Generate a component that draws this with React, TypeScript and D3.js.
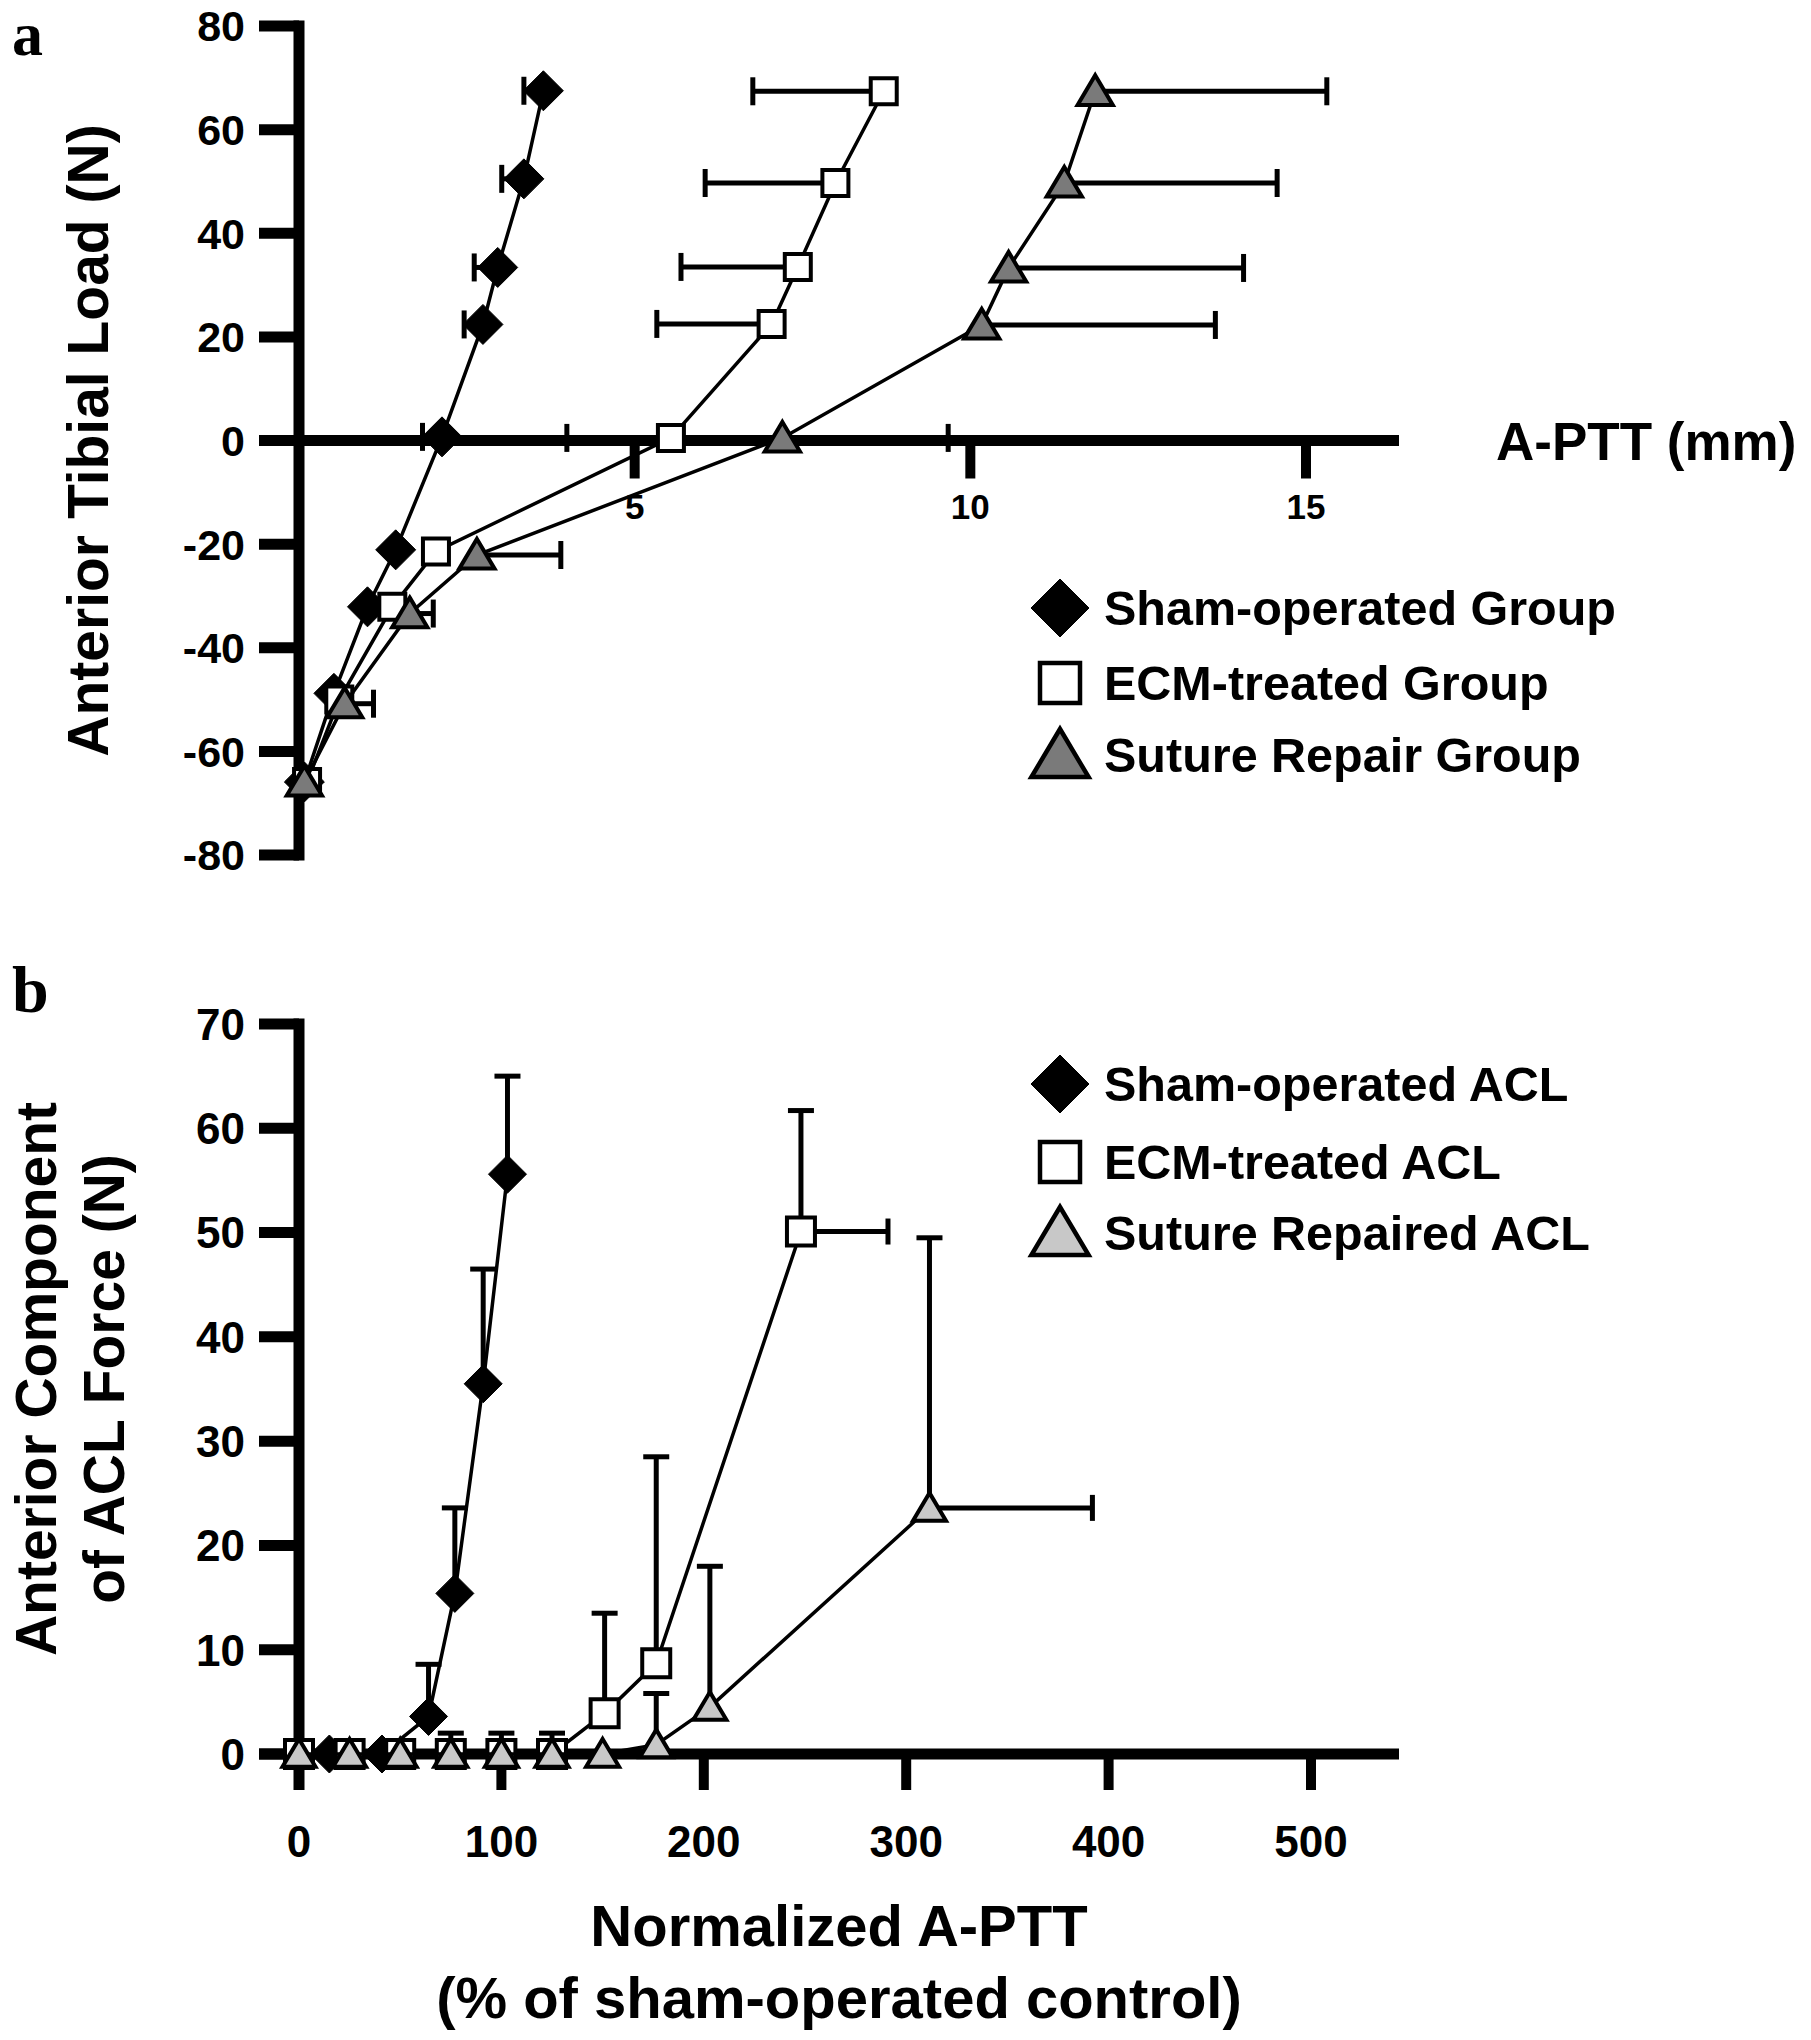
import React from "react";
import * as d3 from "d3";

const FONT = "'Liberation Sans', Arial, sans-serif";

// ---- panel a : anterior tibial load vs A-PTT (mm)
const loadTicks = [80, 60, 40, 20, 0, -20, -40, -60, -80];
const apttTicks = [5, 10, 15];

const shamGroupMm = [3.64, 3.35, 2.96, 2.74, 2.13, 1.44, 1.02, 0.52, 0.08];
const shamGroupLoad = [67.5, 50.5, 33.4, 22.4, 0.7, -21.1, -32.1, -48.8, -65.9];
const shamGroupErrMm = [3.35, 3.02, 2.61, 2.46, 1.84, null, null, null, null];

const ecmGroupMm = [8.71, 7.99, 7.43, 7.04, 5.54, 2.04, 1.39, 0.6, 0.12];
const ecmGroupLoad = [67.4, 49.7, 33.5, 22.5, 0.5, -21.4, -32.1, -50.0, -65.9];
const ecmGroupErrMm = [6.76, 6.05, 5.69, 5.33, 3.99, null, null, null, null];

const sutureGroupMm = [11.86, 11.4, 10.57, 10.17, 7.2, 2.65, 1.65, 0.68, 0.08];
const sutureGroupLoad = [67.4, 49.7, 33.3, 22.3, 0.5, -22.1, -33.4, -50.8, -65.9];
const sutureGroupErrMm = [15.31, 14.57, 14.07, 13.65, 9.67, 3.9, 2.0, 1.11, null];

const legendA = ["Sham-operated Group", "ECM-treated Group", "Suture Repair Group"];

// ---- panel b : ACL force vs normalized A-PTT (%)
const forceTicks = [70, 60, 50, 40, 30, 20, 10, 0];
const pctTicks = [0, 100, 200, 300, 400, 500];

const shamAclPct = [15, 41, 64, 77, 91, 103];
const shamAclForce = [0, 0, 3.6, 15.4, 35.5, 55.6];
const shamAclErrForce = [null, null, 8.6, 23.6, 46.5, 65.0];

const ecmAclPct = [0, 25, 50, 75, 100, 125, 151, 176.5, 248];
const ecmAclForce = [0, 0, 0, 0, 0, 0, 3.9, 8.7, 50.1];
const ecmAclErrForce = [0.8, 1.2, 1.2, 2.0, 2.0, 2.0, 13.5, 28.5, 61.7];
const ecmAclErrPct = [null, null, null, null, null, null, null, null, 291];

const sutureAclPct = [0, 25, 50, 75, 100, 125, 150, 176.5, 203, 311.5];
const sutureAclForce = [0, 0, 0, 0, 0, 0, 0, 0.9, 4.5, 23.6];
const sutureAclErrForce = [null, null, null, null, null, null, null, 5.8, 18.0, 49.5];
const sutureAclErrPct = [null, null, null, null, null, null, null, null, null, 392];

const legendB = ["Sham-operated ACL", "ECM-treated ACL", "Suture Repaired ACL"];

type Pt = { x: number; y: number; ex: number | null; ey: number | null };

function zip(xs: number[], ys: number[], exs?: (number | null)[], eys?: (number | null)[]): Pt[] {
  return xs.map((x, i) => ({
    x,
    y: ys[i],
    ex: exs ? exs[i] : null,
    ey: eys ? eys[i] : null,
  }));
}

function marker(kind: string, cx: number, cy: number, s: number) {
  if (kind === "diamond") {
    return `M${cx},${cy - s}L${cx + s},${cy}L${cx},${cy + s}L${cx - s},${cy}Z`;
  }
  if (kind === "square") {
    return `M${cx - s},${cy - s}H${cx + s}V${cy + s}H${cx - s}Z`;
  }
  const w = s * 1.1;
  return `M${cx},${cy - s}L${cx + w},${cy + s * 0.85}L${cx - w},${cy + s * 0.85}Z`;
}

function Series({ pts, kind, fill, size, xs, ys, cap }: any) {
  const line = d3
    .line<Pt>()
    .x((d) => xs(d.x))
    .y((d) => ys(d.y));
  return (
    <g>
      {pts.map((d: Pt, i: number) => (
        <g key={"e" + i} stroke="#000" strokeWidth={5}>
          {d.ex != null && (
            <>
              <line x1={xs(d.x)} x2={xs(d.ex)} y1={ys(d.y)} y2={ys(d.y)} />
              <line x1={xs(d.ex)} x2={xs(d.ex)} y1={ys(d.y) - cap} y2={ys(d.y) + cap} />
            </>
          )}
          {d.ey != null && (
            <>
              <line x1={xs(d.x)} x2={xs(d.x)} y1={ys(d.y)} y2={ys(d.ey)} />
              <line x1={xs(d.x) - cap} x2={xs(d.x) + cap} y1={ys(d.ey)} y2={ys(d.ey)} />
            </>
          )}
        </g>
      ))}
      <path d={line(pts) || ""} fill="none" stroke="#000" strokeWidth={3.5} />
      {pts.map((d: Pt, i: number) => (
        <path
          key={"m" + i}
          d={marker(kind, xs(d.x), ys(d.y), size)}
          fill={fill}
          stroke="#000"
          strokeWidth={kind === "diamond" ? 1 : 4}
        />
      ))}
    </g>
  );
}

function Legend({ x, rows, labels, triFill }: any) {
  const kinds = ["diamond", "square", "triangle"];
  const fills = ["#000", "#fff", triFill];
  const sizes = [29, 20, 26];
  return (
    <g>
      {labels.map((t: string, i: number) => (
        <g key={t}>
          <path d={marker(kinds[i], x, rows[i], sizes[i])} fill={fills[i]} stroke="#000" strokeWidth={kinds[i] === "diamond" ? 1 : 4.5} />
          <text x={x + 44} y={rows[i]} dy="0.36em" fontSize={48.5} fontFamily={FONT} fontWeight="bold">
            {t}
          </text>
        </g>
      ))}
    </g>
  );
}

export default function App() {
  // panel a scales
  const xA = d3.scaleLinear().domain([0, 15]).range([299, 1306]);
  const yA = d3.scaleLinear().domain([-80, 80]).range([855, 26]);
  // panel b scales
  const xB = d3.scaleLinear().domain([0, 500]).range([299, 1311]);
  const yB = d3.scaleLinear().domain([0, 70]).range([1754, 1024]);

  const axisW = 11;
  const tickL = 40;

  return (
    <div style={{ position: "absolute", left: 0, top: 0, background: "#fff" }}>
      <svg width={1811} height={2040} style={{ display: "block" }}>
        <rect width={1811} height={2040} fill="#fff" />

        {/* ---------- panel a ---------- */}
        <text x={12} y={55} fontSize={62} fontWeight="bold" fontFamily="'Liberation Serif', serif">a</text>
        <g stroke="#000" strokeWidth={axisW}>
          <line x1={xA(0)} x2={xA(0)} y1={yA(80) - axisW / 2} y2={yA(-80) + axisW / 2} />
          {loadTicks.map((t) => (
            <line key={t} x1={xA(0) - tickL} x2={xA(0)} y1={yA(t)} y2={yA(t)} />
          ))}
          <line x1={xA(0) - tickL} x2={1399} y1={yA(0)} y2={yA(0)} />
          {apttTicks.map((t) => (
            <line key={t} x1={xA(t)} x2={xA(t)} y1={yA(0)} y2={yA(0) + 38} strokeWidth={10} />
          ))}
        </g>
        {loadTicks.map((t) => (
          <text key={t} x={xA(0) - tickL - 14} y={yA(t)} dy="0.36em" textAnchor="end" fontSize={43} fontFamily={FONT} fontWeight="bold">
            {t}
          </text>
        ))}
        {apttTicks.map((t) => (
          <text key={t} x={xA(t)} y={yA(0) + 78} textAnchor="middle" fontSize={35} fontFamily={FONT} fontWeight="bold">
            {t}
          </text>
        ))}
        <text x={1496} y={yA(0)} dy="0.36em" fontSize={53} fontFamily={FONT} fontWeight="bold">A-PTT (mm)</text>
        <text transform={`translate(108,${yA(0)}) rotate(-90)`} textAnchor="middle" fontSize={57} fontFamily={FONT} fontWeight="bold">
          Anterior Tibial Load (N)
        </text>

        <Series pts={zip(shamGroupMm, shamGroupLoad, shamGroupErrMm)} kind="diamond" fill="#000" size={20} xs={xA} ys={yA} cap={14} />
        <Series pts={zip(ecmGroupMm, ecmGroupLoad, ecmGroupErrMm)} kind="square" fill="#fff" size={13} xs={xA} ys={yA} cap={14} />
        <Series pts={zip(sutureGroupMm, sutureGroupLoad, sutureGroupErrMm)} kind="triangle" fill="#7a7a7a" size={16} xs={xA} ys={yA} cap={14} />

        <Legend x={1060} rows={[608, 683, 755]} labels={legendA} triFill="#7a7a7a" />

        {/* ---------- panel b ---------- */}
        <text x={12} y={1012} fontSize={66} fontWeight="bold" fontFamily="'Liberation Serif', serif">b</text>
        <g stroke="#000" strokeWidth={axisW}>
          <line x1={xB(0)} x2={xB(0)} y1={yB(70) - axisW / 2} y2={yB(0) + 36} />
          {forceTicks.map((t) => (
            <line key={t} x1={xB(0) - tickL} x2={xB(0)} y1={yB(t)} y2={yB(t)} />
          ))}
          <line x1={xB(0) - tickL} x2={1399} y1={yB(0)} y2={yB(0)} />
          {pctTicks.map((t) => (
            <line key={t} x1={xB(t)} x2={xB(t)} y1={yB(0)} y2={yB(0) + 36} strokeWidth={10} />
          ))}
        </g>
        {forceTicks.map((t) => (
          <text key={t} x={xB(0) - tickL - 14} y={yB(t)} dy="0.36em" textAnchor="end" fontSize={44} fontFamily={FONT} fontWeight="bold">
            {t}
          </text>
        ))}
        {pctTicks.map((t) => (
          <text key={t} x={xB(t)} y={1857} textAnchor="middle" fontSize={44} fontFamily={FONT} fontWeight="bold">
            {t}
          </text>
        ))}
        <text x={839} y={1925} dy="0.36em" textAnchor="middle" fontSize={58} fontFamily={FONT} fontWeight="bold">Normalized A-PTT</text>
        <text x={839} y={1997} dy="0.36em" textAnchor="middle" fontSize={58} fontFamily={FONT} fontWeight="bold">(% of sham-operated control)</text>
        <text transform={`translate(56,1379) rotate(-90)`} textAnchor="middle" fontSize={57} fontFamily={FONT} fontWeight="bold">
          Anterior Component
        </text>
        <text transform={`translate(124,1379) rotate(-90)`} textAnchor="middle" fontSize={57} fontFamily={FONT} fontWeight="bold">
          of ACL Force (N)
        </text>

        <Series pts={zip(shamAclPct, shamAclForce, undefined, shamAclErrForce)} kind="diamond" fill="#000" size={19} xs={xB} ys={yB} cap={13} />
        <Series pts={zip(ecmAclPct, ecmAclForce, ecmAclErrPct, ecmAclErrForce)} kind="square" fill="#fff" size={14} xs={xB} ys={yB} cap={13} />
        <Series pts={zip(sutureAclPct, sutureAclForce, sutureAclErrPct, sutureAclErrForce)} kind="triangle" fill="#c8c8c8" size={15} xs={xB} ys={yB} cap={13} />

        <Legend x={1060} rows={[1084, 1162, 1233]} labels={legendB} triFill="#c8c8c8" />
      </svg>
    </div>
  );
}
